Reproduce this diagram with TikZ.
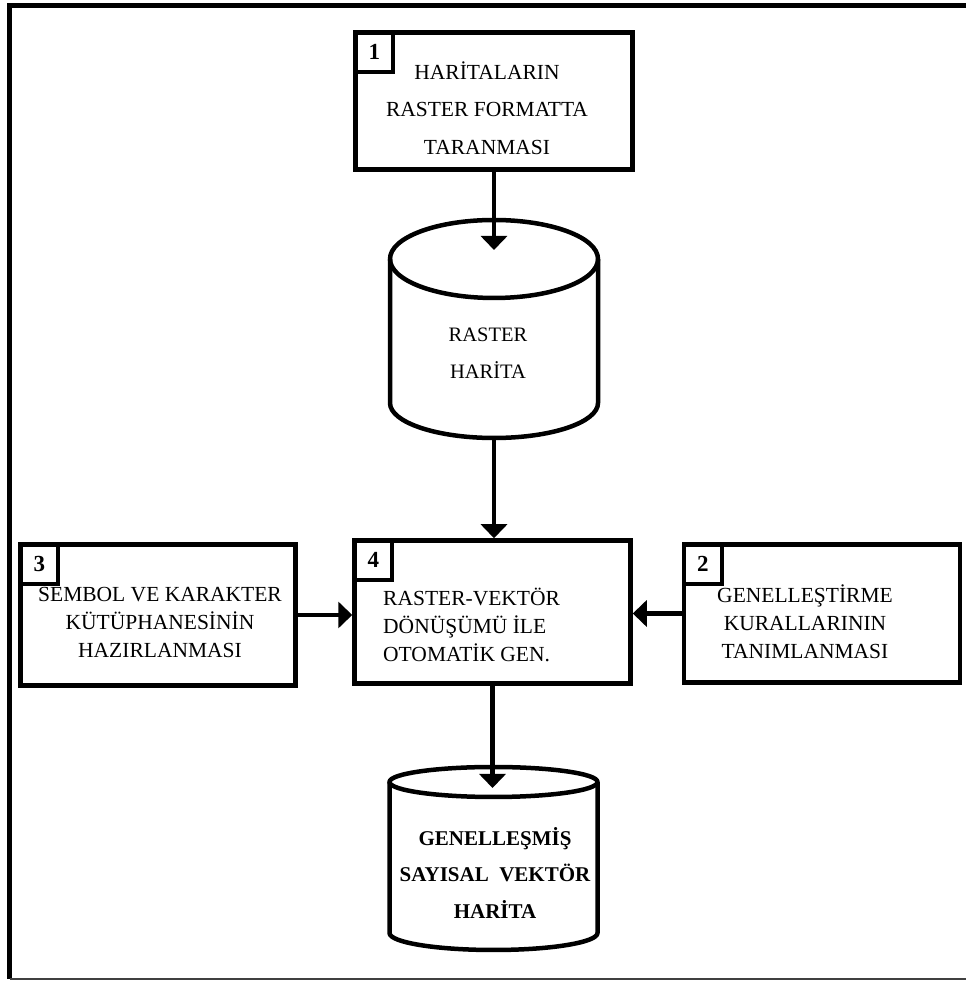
\documentclass[tikz,border=0pt]{standalone}
\usepackage{fontspec}
\setmainfont{Liberation Serif}
\usetikzlibrary{arrows.meta}
\begin{document}
\begin{tikzpicture}[x=1pt,y=1pt,
  procbox/.style={draw, line width=4.5pt, inner sep=0pt},
  numbox/.style={draw, line width=4pt, inner sep=0pt, minimum width=38pt, minimum height=40pt, anchor=north west, font=\fontsize{23}{26}\selectfont\bfseries},
  lbl/.style={align=center, inner sep=0pt, font=\fontsize{21.5}{28}\selectfont},
  arr/.style={line width=4.5pt, -{Triangle[width=26pt,length=14pt]}},
  cyl/.style={line width=4.5pt, line join=round}]
\useasboundingbox (0,0) rectangle (966,981);
% frame
\draw[line width=5pt] (966,975) -- (9.5,975) -- (9.5,2);
\draw[line width=2pt, black!75] (9.5,2) -- (966,2);
% boxes
\node[procbox, minimum width=277pt, minimum height=137pt] (b1) at (494,880) {};
\node[procbox, minimum width=276pt, minimum height=143pt] (b4) at (492.5,369) {};
\node[procbox, minimum width=275pt, minimum height=141pt] (b3) at (158,366) {};
\node[procbox, minimum width=276pt, minimum height=138pt] (b2) at (822,367.5) {};
% number boxes
\node[numbox] (n1) at (b1.north west) {1};
\node[numbox] (n4) at (b4.north west) {4};
\node[numbox] (n3) at (b3.north west) {3};
\node[numbox] (n2) at (b2.north west) {2};
% box texts
\node[lbl, font=\fontsize{21.5}{37.5}\selectfont] (t1) at (487,873) {HARİTALARIN\\RASTER FORMATTA\\TARANMASI};
\node[lbl] (t3) at (160,359) {SEMBOL VE KARAKTER\\KÜTÜPHANESİNİN\\HAZIRLANMASI};
\node[lbl, align=left, anchor=west] (t4) at (383,356) {RASTER-VEKTÖR\\DÖNÜŞÜMÜ İLE\\OTOMATİK GEN.};
\node[lbl] (t2) at (805,359) {GENELLEŞTİRME\\KURALLARININ\\TANIMLANMASI};
% cylinder 1
\draw[cyl] (390,722) -- (390,578) arc[start angle=180, end angle=360, x radius=104, y radius=35] -- (598,722);
\draw[cyl] (494,722) ellipse [x radius=104, y radius=39];
\coordinate (c1top) at (494,731);
\coordinate (c1bot) at (494,543);
\node[lbl, font=\fontsize{20.5}{37}\selectfont] (tc1) at (488,628) {RASTER\\HARİTA};
% cylinder 2
\draw[cyl] (389.5,199) -- (389.5,48) arc[start angle=180, end angle=360, x radius=104, y radius=17] -- (597.5,199);
\draw[cyl] (493.5,199) ellipse [x radius=104, y radius=15];
\coordinate (c2top) at (493.5,193);
\node[lbl, font=\fontsize{21}{36.5}\selectfont\bfseries] (tc2) at (495,108) {GENELLEŞMİŞ\\SAYISAL\ \ VEKTÖR\\HARİTA};
% arrows
\draw[arr] (b1.south) -- (c1top);
\draw[arr] (c1bot) -- (c1bot |- b4.north);
\draw[arr] (b4.south) -- (b4.south |- c2top);
\draw[arr] (b3.east) -- (b3.east -| b4.west);
\draw[arr] (b2.west) -- (b2.west -| b4.east);
\end{tikzpicture}
\end{document}
